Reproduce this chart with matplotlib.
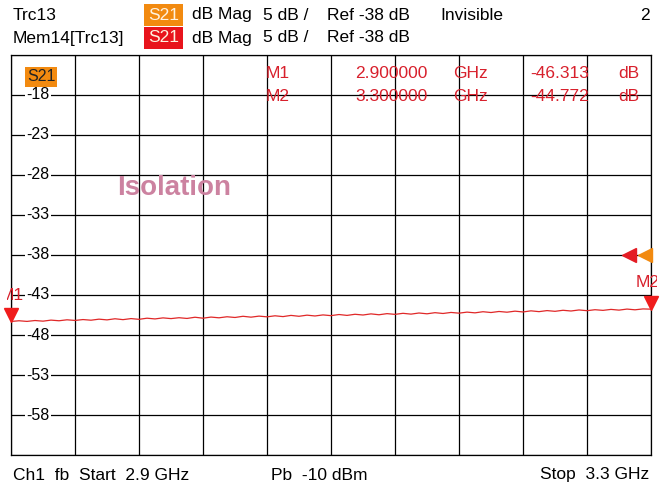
import numpy as np
import matplotlib
matplotlib.use("Agg")
import matplotlib.pyplot as plt
from matplotlib.transforms import Bbox

# sweep
f_start = 2.9
f_stop = 3.3
n_points = 81

s21_db = [
    -46.31, -46.22, -46.30, -46.19, -46.27, -46.14, -46.22, -46.10, -46.18, -46.07,
    -46.15, -46.02, -46.11, -45.97, -46.08, -45.95, -46.04, -45.90, -45.99, -45.86,
    -45.95, -45.84, -45.93, -45.78, -45.90, -45.76, -45.85, -45.72, -45.81, -45.66,
    -45.77, -45.64, -45.73, -45.60, -45.70, -45.55, -45.66, -45.52, -45.62, -45.49,
    -45.58, -45.44, -45.55, -45.41, -45.50, -45.36, -45.47, -45.33, -45.42, -45.29,
    -45.39, -45.25, -45.35, -45.21, -45.31, -45.18, -45.27, -45.14, -45.23, -45.09,
    -45.19, -45.06, -45.15, -45.02, -45.12, -44.98, -45.08, -44.95, -45.04, -44.91,
    -45.00, -44.87, -44.96, -44.84, -44.92, -44.80, -44.89, -44.76, -44.85, -44.74,
    -44.77,
]

markers = ["M1", "M2"]
marker_freq = [2.9, 3.3]
marker_val = [-46.313, -44.772]

ref_level = -38
y_top = -13
y_bottom = -63
y_labels = [-18, -23, -28, -33, -38, -43, -48, -53, -58]

W, H = 664, 488
FONT = "Liberation Sans"
RED = "#d8202c"
ORANGE = "#f28a10"
FS = 12.5

fig = plt.figure(figsize=(W / 100, H / 100), dpi=100)
fig.patch.set_facecolor("white")

x0, x1, yt, yb = 11, 651, 55, 455
ax = fig.add_axes([x0 / W, 1 - yb / H, (x1 - x0) / W, (yb - yt) / H])


def axx(px):
    return (px - x0) / (x1 - x0)


def axy(py):
    return 1 - (py - yt) / (yb - yt)


freqs = np.linspace(f_start, f_stop, n_points)
ax.plot(freqs, s21_db, color="#e02828", lw=0.9, zorder=3)

ax.set_xlim(f_start, f_stop)
ax.set_ylim(y_bottom, y_top)
ax.set_xticks(np.linspace(f_start, f_stop, 11))
ax.set_yticks(np.arange(y_bottom, y_top + 1, 5))
ax.tick_params(length=0, labelbottom=False, labelleft=False)
ax.grid(True, color="black", lw=0.9)
for s in ax.spines.values():
    s.set_color("black")
    s.set_linewidth(0.9)

# y labels drawn inside the grid
for v in y_labels:
    ax.text(axx(38), v, f"{v}", transform=ax.get_yaxis_transform(), ha="center",
            va="center", fontsize=11.5, family=FONT, zorder=4,
            bbox=dict(fc="white", ec="none", pad=1.0))

# S21 label inside plot
ax.text(axx(27), axy(77), "S21", transform=ax.transAxes, ha="left", va="center",
        fontsize=11.5, family=FONT, color="#222222",
        bbox=dict(fc=ORANGE, ec="none", pad=1.5), zorder=5)

ax.text(axx(117), axy(188), "Isolation", ha="left", va="center", fontsize=20,
        fontweight="bold", family=FONT, color="#cc82a0",
        transform=ax.transAxes, zorder=4)

# marker table
rows_y = [74, 97]
for name, fq, val, ry in zip(markers, marker_freq, marker_val, rows_y):
    kw = dict(transform=ax.transAxes, va="center", fontsize=FS, family=FONT,
              color=RED, zorder=5)
    ax.text(axx(266), axy(ry), name, ha="left", **kw)
    ax.text(axx(355), axy(ry), f"{fq:.6f}", ha="left", **kw)
    ax.text(axx(453), axy(ry), "GHz", ha="left", **kw)
    ax.text(axx(589), axy(ry), f"{val:.3f}", ha="right", **kw)
    ax.text(axx(639), axy(ry), "dB", ha="right", **kw)

# marker triangles on the trace
for fq, val in zip(marker_freq, marker_val):
    ax.plot(fq, val + 0.8, marker="v", ms=9.5, color="#f01c1c", clip_on=False,
            zorder=6)

# marker names, cut off at the screen edges
clip_px = Bbox.from_extents(7, 0, 657, H)
label_x = [12, 648]
for name, lx, val in zip(markers, label_x, marker_val):
    t = ax.text(axx(lx), val + 3.3, name, ha="center", va="center", fontsize=FS,
                family=FONT, color=RED, zorder=6,
                transform=ax.get_yaxis_transform())
    t.set_clip_box(clip_px)
    t.set_clip_on(True)

# reference level arrows
ax.plot(f_stop - 0.0038, ref_level, marker="<", ms=10, color=ORANGE,
        clip_on=False, zorder=6)
ax.plot(f_stop - 0.0138, ref_level, marker="<", ms=10, color="#e41c24",
        clip_on=False, zorder=7)


def ftext(x, y, s, **kw):
    kw.setdefault("fontsize", FS)
    kw.setdefault("family", FONT)
    kw.setdefault("va", "center")
    fig.text(x / W, 1 - y / H, s, **kw)


# header
ftext(13, 15, "Trc13")
ftext(13, 38, "Mem14[Trc13]")
for y, c in [(15, ORANGE), (38, "#e8141c")]:
    ftext(148, y, "S21", color="#fff2e0",
          bbox=dict(fc=c, ec="none", pad=2.6))
    ftext(192, y, "dB Mag")
    ftext(263, y, "5 dB /")
    ftext(327, y, "Ref -38 dB")
ftext(440, 15, "Invisible")
ftext(650, 15, "2", ha="right")

# footer
ftext(13, 475, "Ch1  fb  Start  2.9 GHz")
ftext(271, 475, "Pb  -10 dBm")
ftext(649, 475, "Stop  3.3 GHz", ha="right")

fig.savefig("out.png", dpi=100, facecolor="white")
